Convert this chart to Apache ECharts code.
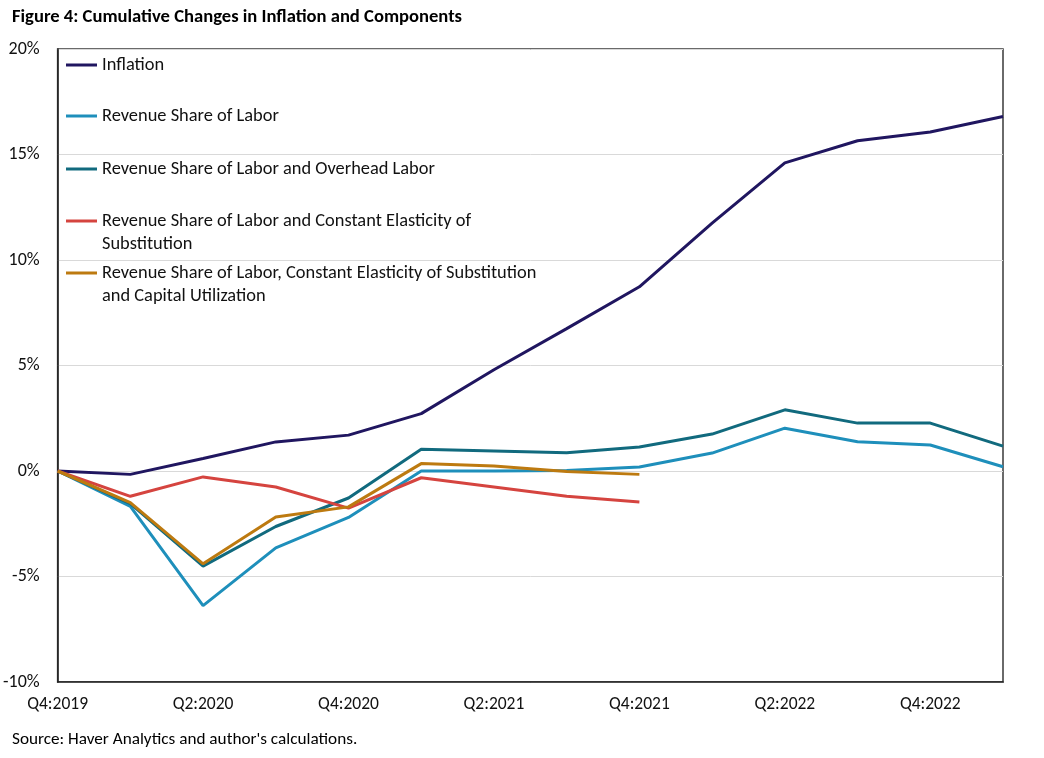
<!DOCTYPE html>
<html>
<head>
<meta charset="utf-8">
<script src="https://cdn.jsdelivr.net/npm/echarts@6/dist/echarts.min.js"></script>
<style>
  html, body { margin: 0; padding: 0; background: #fff; }
  #chart { width: 1044px; height: 758px; }
</style>
</head>
<body>
<div id="chart"></div>
<script>
const quarters = ['Q4:2019', 'Q1:2020', 'Q2:2020', 'Q3:2020', 'Q4:2020', 'Q1:2021', 'Q2:2021',
  'Q3:2021', 'Q4:2021', 'Q1:2022', 'Q2:2022', 'Q3:2022', 'Q4:2022', 'Q1:2023'];

const inflation = [0, -0.16, 0.59, 1.38, 1.7, 2.72, 4.8, 6.75, 8.73, 11.75, 14.6, 15.65, 16.07, 16.8];
const laborShare = [0, -1.68, -6.38, -3.64, -2.2, 0, 0, 0.02, 0.19, 0.85, 2.03, 1.39, 1.23, 0.2];
const overheadLabor = [0, -1.55, -4.51, -2.63, -1.28, 1.03, 0.95, 0.87, 1.14, 1.75, 2.9, 2.27, 2.27, 1.18];
const cesLabor = [0, -1.2, -0.28, -0.76, -1.76, -0.32, -0.76, -1.2, -1.47];
const cesCapital = [0, -1.5, -4.4, -2.18, -1.7, 0.35, 0.24, -0.02, -0.16];

const names = [
  'Inflation',
  'Revenue Share of Labor',
  'Revenue Share of Labor and Overhead Labor',
  'Revenue Share of Labor and Constant Elasticity of Substitution',
  'Revenue Share of Labor, Constant Elasticity of Substitution and Capital Utilization'
];
// legend text wrapped as in the figure
const legendLines = [
  [names[0]],
  [names[1]],
  [names[2]],
  ['Revenue Share of Labor and Constant Elasticity of', 'Substitution'],
  ['Revenue Share of Labor, Constant Elasticity of Substitution', 'and Capital Utilization']
];
const colors = ['#201660', '#1e8fbb', '#116a7e', '#d5443f', '#bd7a10'];
const seriesData = [inflation, laborShare, overheadLabor, cesLabor, cesCapital];

const FONT = 'Carlito, Lato, sans-serif';
const LH = 23;

// one legend per entry so the row spacing matches the figure
const legendRows = [65, 116, 169, 221, 273];
const legends = names.map((n, i) => {
  const lines = legendLines[i];
  const twoLine = lines.length > 1;
  return {
    data: [n],
    orient: 'vertical',
    left: 66,
    // an empty line on top keeps the icon level with the first text line
    top: twoLine ? legendRows[i] - LH * 1.5 : legendRows[i] - LH / 2,
    padding: 0,
    icon: 'rect',
    itemWidth: 31,
    itemHeight: 3,
    selectedMode: false,
    formatter: () => twoLine ? '{s| }\n' + lines.join('\n') : lines[0],
    textStyle: {
      fontFamily: FONT,
      fontSize: 18.4,
      color: '#111',
      lineHeight: LH,
      rich: { s: { fontSize: 18.4, lineHeight: LH } }
    }
  };
});

const chart = echarts.init(document.getElementById('chart'));
chart.setOption({
  animation: false,
  title: [
    {
      text: 'Figure 4: Cumulative Changes in Inflation and Components',
      left: 12, top: 8, padding: 0,
      textStyle: { fontFamily: FONT, fontSize: 18.6, fontWeight: 'bold', color: '#000' }
    },
    {
      text: "Source: Haver Analytics and author's calculations.",
      left: 12, top: 731, padding: 0,
      textStyle: { fontFamily: FONT, fontSize: 17.2, fontWeight: 'normal', color: '#000' }
    }
  ],
  legend: legends,
  grid: {
    left: 57, right: 41, top: 49, bottom: 76,
    show: true, borderColor: '#3a3a3a', borderWidth: 1.5
  },
  xAxis: {
    type: 'category',
    data: quarters,
    boundaryGap: false,
    axisLine: { onZero: false, lineStyle: { color: '#222', width: 1.5 } },
    axisTick: { show: false },
    axisLabel: { interval: 1, margin: 14, fontFamily: FONT, fontSize: 17.5, color: '#111' },
    splitLine: { show: false }
  },
  yAxis: {
    type: 'value',
    min: -10, max: 20, interval: 5,
    axisLine: { show: true, lineStyle: { color: '#222', width: 1.5 } },
    axisTick: { show: false },
    axisLabel: { formatter: '{value}%', margin: 18, fontFamily: FONT, fontSize: 18, color: '#111' },
    splitLine: { lineStyle: { color: '#d9d9d9', width: 1 } }
  },
  series: names.map((n, i) => ({
    name: n,
    type: 'line',
    data: seriesData[i],
    symbol: 'none',
    color: colors[i],
    itemStyle: { color: colors[i] },
    lineStyle: { color: colors[i], width: 3 }
  }))
});
</script>
</body>
</html>
